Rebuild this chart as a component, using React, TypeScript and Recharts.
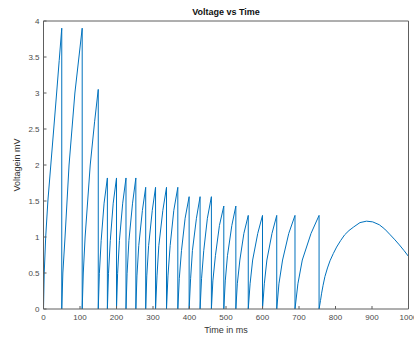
import { LineChart, Line, XAxis, YAxis } from "recharts";

// sample times (ms), one row per charge cycle
const timeMs = [
  0, 2, 6, 12, 20, 28, 36, 43, 50,
  50, 53, 59, 70, 86, 106,
  106, 109, 114, 128, 140, 150,
  150, 153, 158, 166, 175,
  175, 178, 183, 191, 200,
  200, 203, 208, 217, 226,
  226, 229, 234, 244, 253,
  253, 256, 261, 271, 280,
  280, 283, 288, 298, 307,
  307, 311, 316, 327, 337,
  337, 341, 347, 357, 368,
  368, 372, 378, 388, 399,
  399, 403, 408, 419, 429,
  429, 433, 439, 449, 460,
  460, 464, 471, 482, 494,
  494, 498, 504, 516, 527,
  527, 531, 538, 549, 561,
  561, 566, 573, 587, 600,
  600, 605, 612, 626, 639,
  639, 645, 655, 672, 689,
  689, 697, 709, 733, 755,
  755, 759, 762, 766, 771, 778, 785, 794, 803, 814, 825, 837, 850, 867,
  885, 902, 920, 935, 950, 963, 975, 988, 1000,
];

// voltage (mV) at those times
const voltageMv = [
  0, 0.5, 1.0, 1.5, 2.0, 2.5, 3.0, 3.45, 3.9,
  0, 0.5, 1.0, 2.0, 3.0, 3.9,
  0, 0.5, 1.0, 2.0, 2.6, 3.05,
  0, 0.49, 0.95, 1.47, 1.82,
  0, 0.49, 0.95, 1.47, 1.82,
  0, 0.49, 0.95, 1.47, 1.82,
  0, 0.49, 0.95, 1.47, 1.82,
  0, 0.46, 0.88, 1.37, 1.69,
  0, 0.46, 0.88, 1.37, 1.69,
  0, 0.46, 0.88, 1.37, 1.69,
  0, 0.46, 0.88, 1.37, 1.69,
  0, 0.42, 0.81, 1.26, 1.56,
  0, 0.42, 0.81, 1.26, 1.56,
  0, 0.42, 0.81, 1.26, 1.56,
  0, 0.39, 0.74, 1.16, 1.43,
  0, 0.39, 0.74, 1.16, 1.43,
  0, 0.35, 0.68, 1.05, 1.3,
  0, 0.35, 0.68, 1.05, 1.3,
  0, 0.35, 0.68, 1.05, 1.3,
  0, 0.35, 0.68, 1.05, 1.3,
  0, 0.35, 0.68, 1.05, 1.3,
  0, 0.12, 0.22, 0.33, 0.45, 0.57, 0.67, 0.77, 0.86, 0.95, 1.03, 1.09, 1.14, 1.2,
  1.22, 1.21, 1.17, 1.11, 1.03, 0.96, 0.89, 0.81, 0.73,
];

const xTicks = [0, 100, 200, 300, 400, 500, 600, 700, 800, 900, 1000];
const yTicks = [0, 0.5, 1, 1.5, 2, 2.5, 3, 3.5, 4];

const axisColor = "#5e5e5e";
const font = "'Liberation Sans', Arial, sans-serif";
const tickStyle = { fontSize: 8, fill: "#4a4a4a", fontFamily: font };

export default function App() {
  const data = timeMs.map((t, i) => ({ t, v: voltageMv[i] }));

  return (
    <div style={{ position: "absolute", left: 0, top: 0, background: "#fff" }}>
      <LineChart
        data={data}
        width={414}
        height={339}
        margin={{ top: 0, right: 0, bottom: 0, left: 0 }}
      >
        <XAxis
          dataKey="t"
          type="number"
          domain={[0, 1000]}
          ticks={xTicks}
          interval={0}
          allowDataOverflow
          height={30}
          tickSize={-3}
          tickMargin={8}
          stroke={axisColor}
          tick={tickStyle}
          label={{
            value: "Time in ms",
            position: "insideBottom",
            offset: 6,
            style: { fontSize: 9, fill: "#333", fontFamily: font },
          }}
        />
        {/* box: top edge with inward ticks, carries the title */}
        <XAxis
          xAxisId="top"
          dataKey="t"
          orientation="top"
          type="number"
          domain={[0, 1000]}
          ticks={xTicks}
          interval={0}
          allowDataOverflow
          height={21}
          tickSize={-3}
          tick={false}
          stroke={axisColor}
          label={{
            value: "Voltage vs Time",
            position: "insideTop",
            offset: 9,
            style: { fontSize: 9, fontWeight: "bold", fill: "#111", fontFamily: font },
          }}
        />
        <YAxis
          type="number"
          domain={[0, 4]}
          ticks={yTicks}
          interval={0}
          allowDataOverflow
          width={43.5}
          tickSize={-3}
          tickMargin={7}
          stroke={axisColor}
          tick={tickStyle}
          label={{
            value: "Voltagein mV",
            angle: -90,
            position: "insideLeft",
            offset: 17,
            style: { fontSize: 9, fill: "#333", fontFamily: font, textAnchor: "middle" },
          }}
        />
        {/* box: right edge with inward ticks */}
        <YAxis
          yAxisId="right"
          orientation="right"
          type="number"
          domain={[0, 4]}
          ticks={yTicks}
          interval={0}
          allowDataOverflow
          width={5.5}
          tickSize={-3}
          tick={false}
          stroke={axisColor}
        />
        <Line
          type="linear"
          dataKey="v"
          stroke="#0072bd"
          strokeWidth={1}
          dot={false}
          isAnimationActive={false}
        />
        <Line
          xAxisId="top"
          yAxisId="right"
          type="linear"
          dataKey="v"
          stroke="none"
          dot={false}
          activeDot={false}
          legendType="none"
          isAnimationActive={false}
        />
      </LineChart>
    </div>
  );
}
